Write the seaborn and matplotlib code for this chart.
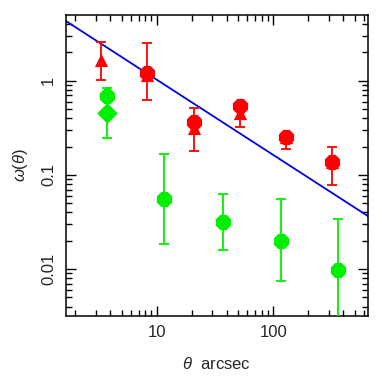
import matplotlib
matplotlib.use("Agg")
import matplotlib.pyplot as plt
import matplotlib.ticker as mticker
import numpy as np
import pandas as pd
import seaborn as sns

# ---- data ----
red_hex_theta = [8.2, 20.9, 51.8, 128.5, 323.0]
red_hex_w = [1.22, 0.367, 0.54, 0.25, 0.138]
red_hex_lo = [0.62, 0.18, 0.325, 0.19, 0.078]
red_hex_hi = [2.5, 0.51, 0.62, 0.30, 0.225]

red_tri_theta = [3.31, 8.2, 20.9, 51.8, 128.5, 323.0]
red_tri_w = [1.66, 1.15, 0.315, 0.457, 0.25, 0.138]
red_tri_lo = [1.02, 0.62, 0.18, 0.325, 0.19, 0.078]
red_tri_hi = [2.56, 2.5, 0.51, 0.55, 0.28, 0.2]

green_hex_theta = [3.73, 11.6, 36.8, 115.7, 363.0]
green_hex_w = [0.69, 0.0555, 0.0319, 0.020, 0.0097]
green_hex_lo = [0.245, 0.0186, 0.016, 0.0074, 0.001]
green_hex_hi = [0.83, 0.165, 0.0627, 0.0555, 0.0343]

green_dia_theta = [3.73]
green_dia_w = [0.45]

line_theta = [1.66, 650.0]
line_w = [4.33, 0.0366]

x_ticks = [10, 100]
x_ticklabels = ["10", "100"]
y_ticks = [0.01, 0.1, 1]
y_ticklabels = ["0.01", "0.1", "1"]

RED = "#ff0000"
GREEN = "#00f000"
BLUE = "#0000ee"

sns.set_style("ticks")
plt.rcParams["font.family"] = ["Liberation Sans", "DejaVu Sans"]
plt.rcParams["mathtext.fontset"] = "custom"
plt.rcParams["mathtext.rm"] = "Liberation Sans"
plt.rcParams["mathtext.it"] = "Liberation Sans:italic"

fig = plt.figure(figsize=(3.82, 3.79), dpi=100)
ax = fig.add_axes([0.172, 0.167, 0.791, 0.793])
ax.set_xscale("log")
ax.set_yscale("log")

# blue power-law line
sns.lineplot(x=line_theta, y=line_w, ax=ax, color=BLUE, lw=1.3, zorder=2)

def errs(w, lo, hi):
    w = np.array(w); lo = np.array(lo); hi = np.array(hi)
    return np.vstack([w - lo, hi - w])

ekw = dict(fmt="none", capsize=3.5, elinewidth=1.3, capthick=1.3)
ax.errorbar(red_tri_theta, red_tri_w, yerr=errs(red_tri_w, red_tri_lo, red_tri_hi), ecolor=RED, zorder=3, **ekw)
ax.errorbar(green_hex_theta, green_hex_w, yerr=errs(green_hex_w, green_hex_lo, green_hex_hi), ecolor=GREEN, zorder=3, **ekw)

sns.scatterplot(x=red_tri_theta, y=red_tri_w, ax=ax, marker="^", s=90, color=RED, edgecolor=RED, linewidth=0, zorder=4)
sns.scatterplot(x=red_hex_theta, y=red_hex_w, ax=ax, marker="8", s=140, color=RED, edgecolor=RED, linewidth=0, zorder=5)
sns.scatterplot(x=green_hex_theta, y=green_hex_w, ax=ax, marker="8", s=140, color=GREEN, edgecolor=GREEN, linewidth=0, zorder=5)
sns.scatterplot(x=green_dia_theta, y=green_dia_w, ax=ax, marker="D", s=110, color=GREEN, edgecolor=GREEN, linewidth=0, zorder=5)

ax.set_xlim(1.66, 650)
ax.set_ylim(0.0032, 4.98)

ax.xaxis.set_major_locator(mticker.FixedLocator(x_ticks))
ax.xaxis.set_major_formatter(mticker.FixedFormatter(x_ticklabels))
ax.yaxis.set_major_locator(mticker.FixedLocator(y_ticks))
ax.yaxis.set_major_formatter(mticker.FixedFormatter(y_ticklabels))
ax.xaxis.set_minor_locator(mticker.LogLocator(base=10, subs=np.arange(2, 10), numticks=20))
ax.yaxis.set_minor_locator(mticker.LogLocator(base=10, subs=np.arange(2, 10), numticks=20))
ax.xaxis.set_minor_formatter(mticker.NullFormatter())
ax.yaxis.set_minor_formatter(mticker.NullFormatter())

ax.tick_params(which="both", direction="in", top=True, right=True, color="black", width=1.0)
ax.tick_params(which="major", length=7, labelsize=12, pad=7)
ax.tick_params(which="minor", length=4)
for lab in ax.get_yticklabels():
    lab.set_rotation(90)
    lab.set_va("center")
for sp in ax.spines.values():
    sp.set_color("black")
    sp.set_linewidth(1.1)

ax.set_xlabel(r"$\theta$  arcsec", fontsize=12, labelpad=11)
ax.set_ylabel(r"$\omega(\theta)$", fontsize=12, labelpad=8)

fig.savefig("out.png", dpi=100)
